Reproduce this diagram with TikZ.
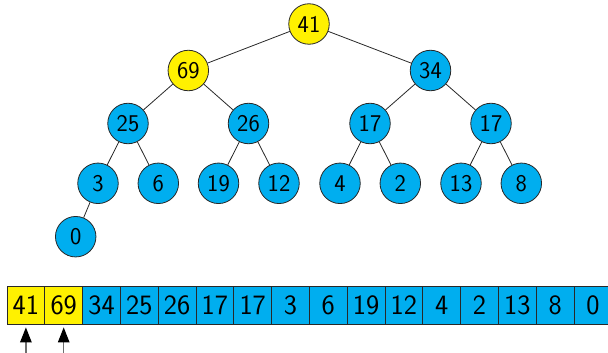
\documentclass[tikz,border=0pt]{standalone}
\usepackage{fontspec}
\setsansfont{Latin Modern Sans}
\usetikzlibrary{arrows.meta}
\definecolor{hblue}{RGB}{0,174,239}
\definecolor{hyel}{RGB}{255,241,0}
\definecolor{hline}{RGB}{40,40,40}
\definecolor{hshaft}{RGB}{110,110,110}
\begin{document}
\begin{tikzpicture}[x=1pt,y=-1pt,
  tnode/.style={circle,draw=hline,line width=0.8pt,fill=hblue,minimum size=40.5pt,inner sep=0pt,font=\sffamily\fontsize{24}{24}\selectfont},
  ynode/.style={tnode,fill=hyel},
  cell/.style={rectangle,draw=hline,line width=0.8pt,fill=hblue,minimum width=37.8pt,minimum height=38pt,inner sep=0pt,font=\sffamily\fontsize{28}{28}\selectfont},
  ycell/.style={cell,fill=hyel},
  edge/.style={draw=hline,line width=0.8pt},
  ptr/.style={draw=hshaft,line width=1.3pt,-{Triangle[length=15pt,width=11.5pt,black]},shorten >=3pt}]
\useasboundingbox (0,0) rectangle (608,353);
\clip (0,0) rectangle (608,353);
% tree
\node[ynode] (n41) at (309,24) {41};
\node[ynode] (n69) at (188.3,70.5) {69};
\node[tnode] (n34) at (430.5,70.5) {34};
\node[tnode] (n25) at (128,123.5) {25};
\node[tnode] (n26) at (248.5,123.5) {26};
\node[tnode] (n17a) at (370,123.5) {17};
\node[tnode] (n17b) at (491,123.5) {17};
\node[tnode] (n3) at (98,183.3) {3};
\node[tnode] (n6) at (158.3,183.3) {6};
\node[tnode] (n19) at (218.5,183.3) {19};
\node[tnode] (n12) at (279,183.3) {12};
\node[tnode] (n4) at (340,183.3) {4};
\node[tnode] (n2) at (400.3,183.3) {2};
\node[tnode] (n13) at (461,183.3) {13};
\node[tnode] (n8) at (521.3,183.3) {8};
\node[tnode] (n0) at (75.7,236.7) {0};
\path[edge] (n41) -- (n69);
\path[edge] (n41) -- (n34);
\path[edge] (n69) -- (n25);
\path[edge] (n69) -- (n26);
\path[edge] (n34) -- (n17a);
\path[edge] (n34) -- (n17b);
\path[edge] (n25) -- (n3);
\path[edge] (n25) -- (n6);
\path[edge] (n26) -- (n19);
\path[edge] (n26) -- (n12);
\path[edge] (n17a) -- (n4);
\path[edge] (n17a) -- (n2);
\path[edge] (n17b) -- (n13);
\path[edge] (n17b) -- (n8);
\path[edge] (n3) -- (n0);
% array
\foreach \v [count=\i from 0] in {41,69,34,25,26,17,17,3,6,19,12,4,2,13,8,0} {
  \pgfmathsetmacro{\cx}{7+37.8*(\i+0.5)}
  \ifnum\i<2
    \node[ycell] (c\i) at (\cx,305) {\v};
  \else
    \node[cell] (c\i) at (\cx,305) {\v};
  \fi
}
\coordinate (p0) at ([yshift=-40pt]c0.south);
\coordinate (p1) at ([yshift=-40pt]c1.south);
\draw[ptr] (p0) -- (c0.south);
\draw[ptr] (p1) -- (c1.south);
\end{tikzpicture}
\end{document}
